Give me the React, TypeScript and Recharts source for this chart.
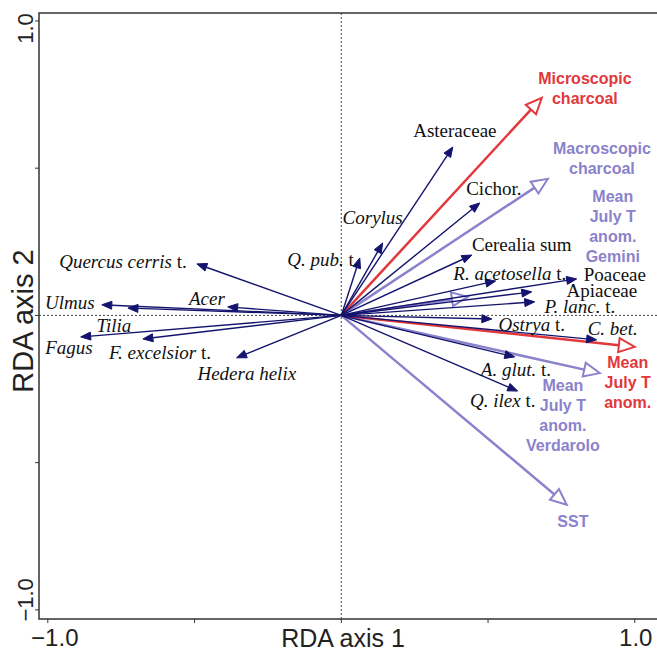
import React from 'react';
import { ScatterChart, Scatter, XAxis, YAxis, ReferenceLine, ReferenceArea, Label } from 'recharts';

const NAVY = '#14146e';
const RED = '#e2383c';
const LAVENDER = '#8a82cb';
const AXIS = '#333333';

// RDA scores of the pollen taxa (arrow tips)
const taxa = [
  { name: 'Quercus cerris t.', x: -0.492, y: 0.175 },
  { name: 'Ulmus', x: -0.816, y: 0.036 },
  { name: 'Tilia', x: -0.727, y: 0.025 },
  { name: 'Acer', x: -0.387, y: 0.029 },
  { name: 'Fagus', x: -0.888, y: -0.073 },
  { name: 'F. excelsior t.', x: -0.676, y: -0.08 },
  { name: 'Hedera helix', x: -0.357, y: -0.144 },
  { name: 'Q. pub. t.', x: 0.063, y: 0.195 },
  { name: 'Corylus', x: 0.141, y: 0.246 },
  { name: 'Asteraceae', x: 0.38, y: 0.572 },
  { name: 'Cichor.', x: 0.472, y: 0.382 },
  { name: 'Cerealia sum', x: 0.445, y: 0.205 },
  { name: 'R. acetosella t.', x: 0.526, y: 0.117 },
  { name: 'Poaceae', x: 0.802, y: 0.124 },
  { name: 'Apiaceae', x: 0.649, y: 0.08 },
  { name: 'P. lanc. t.', x: 0.659, y: 0.046 },
  { name: 'Ostrya t.', x: 0.513, y: -0.012 },
  { name: 'C. bet.', x: 0.87, y: -0.083 },
  { name: 'A. glut. t.', x: 0.591, y: -0.141 },
  { name: 'Q. ilex t.', x: 0.601, y: -0.257 },
];

// explanatory variables, significant (red) and passive (lavender)
const redVars = [
  { name: 'Microscopic charcoal', x: 0.683, y: 0.739 },
  { name: 'Mean July T anom.', x: 1.0, y: -0.107 },
];
const lavenderVars = [
  { name: 'Macroscopic charcoal', x: 0.704, y: 0.464 },
  { name: 'Mean July T anom. Gemini', x: 0.431, y: 0.063 },
  { name: 'Mean July T anom. Verdarolo', x: 0.881, y: -0.196 },
  { name: 'SST', x: 0.768, y: -0.643 },
];

// label anchors (in RDA units); *...* is italic
const taxaLabels = [
  { text: '*Quercus cerris* t.', x: -0.744, y: 0.185 },
  { text: '*Ulmus*', x: -0.925, y: 0.046 },
  { text: '*Acer*', x: -0.458, y: 0.059 },
  { text: '*Tilia*', x: -0.775, y: -0.032 },
  { text: '*Fagus*', x: -0.928, y: -0.107 },
  { text: '*F. excelsior* t.', x: -0.618, y: -0.124 },
  { text: '*Hedera helix*', x: -0.322, y: -0.195 },
  { text: '*Q. pub.* t.', x: -0.063, y: 0.192 },
  { text: '*Corylus*', x: 0.107, y: 0.334 },
  { text: 'Asteraceae', x: 0.387, y: 0.63 },
  { text: 'Cichor.', x: 0.52, y: 0.433 },
  { text: 'Cerealia sum', x: 0.615, y: 0.243 },
  { text: '*R. acetosella* t.', x: 0.574, y: 0.144 },
  { text: 'Poaceae', x: 0.932, y: 0.141 },
  { text: 'Apiaceae', x: 0.888, y: 0.087 },
  { text: '*P. lanc.* t.', x: 0.813, y: 0.032 },
  { text: '*Ostrya* t.', x: 0.649, y: -0.029 },
  { text: '*C. bet.*', x: 0.925, y: -0.042 },
  { text: '*A. glut.* t.', x: 0.595, y: -0.182 },
  { text: '*Q. ilex* t.', x: 0.55, y: -0.287 },
];
const redLabels = [
  { text: 'Microscopic\ncharcoal', x: 0.83, y: 0.769 },
  { text: 'Mean\nJuly T\nanom.', x: 0.976, y: -0.229 },
];
const lavenderLabels = [
  { text: 'Macroscopic\ncharcoal', x: 0.888, y: 0.533 },
  { text: 'Mean\nJuly T\nanom.\nGemini', x: 0.925, y: 0.302 },
  { text: 'Mean\nJuly T\nanom.\nVerdarolo', x: 0.755, y: -0.341 },
  { text: 'SST', x: 0.789, y: -0.701 },
];

const xTicks = [-1, -0.5, 0, 0.5, 1];
const yTicks = [-1, -0.5, 0, 0.5, 1];
const xDomain = [-1.03, 1.12];
const yDomain = [-1.031, 1.027];

const SERIF = '"Liberation Serif", "Times New Roman", serif';
const SANS = '"Liberation Sans", Arial, sans-serif';

const makeArrow = (color: string, width: number, open: boolean) => (props: any) => {
  const pts = props.points;
  if (!pts || pts.length < 2) return <g />;
  const a = pts[0];
  const b = pts[1];
  const dx = b.x - a.x;
  const dy = b.y - a.y;
  const len = Math.hypot(dx, dy) || 1;
  const ux = dx / len;
  const uy = dy / len;
  const headLen = open ? 16 : 10;
  const headW = open ? 7 : 4;
  const bx = b.x - ux * headLen;
  const by = b.y - uy * headLen;
  const px = -uy;
  const py = ux;
  const tri = `${b.x},${b.y} ${bx + px * headW},${by + py * headW} ${bx - px * headW},${by - py * headW}`;
  return (
    <g>
      <line x1={a.x} y1={a.y} x2={bx} y2={by} stroke={color} strokeWidth={width} />
      <polygon points={tri} fill={open ? '#fff' : color} stroke={color} strokeWidth={open ? 2 : 1} />
    </g>
  );
};

const noDot = () => <g />;

const taxonLabel = (p: any) => {
  const parts = String(p.payload.text).split('*');
  return (
    <text x={p.cx} y={p.cy} textAnchor="middle" dominantBaseline="central" fontFamily={SERIF} fontSize={19} fill="#111">
      {parts.map((s, i) => (s ? <tspan key={i} fontStyle={i % 2 ? 'italic' : 'normal'}>{s}</tspan> : null))}
    </text>
  );
};

const varLabel = (color: string) => (p: any) => {
  const lines = String(p.payload.text).split('\n');
  const lh = 20;
  return (
    <text textAnchor="middle" fontFamily={SANS} fontSize={16} fontWeight="bold" fill={color}>
      {lines.map((l, i) => (
        <tspan key={i} x={p.cx} y={p.cy + (i - (lines.length - 1) / 2) * lh} dominantBaseline="central">{l}</tspan>
      ))}
    </text>
  );
};

const xTick = (p: any) => {
  const v = p.payload.value;
  if (Math.abs(v) !== 1) return <g />;
  return (
    <text x={p.x + (v < 0 ? 7 : 1)} y={p.y + 21} textAnchor="middle" fontFamily={SANS} fontSize={24} fill="#222">
      {v < 0 ? '\u22121.0' : '1.0'}
    </text>
  );
};

const yTick = (p: any) => {
  const v = p.payload.value;
  if (Math.abs(v) !== 1) return <g />;
  const cy = p.y + (v > 0 ? 7.5 : -10);
  return (
    <text transform={`translate(${p.x},${cy}) rotate(-90)`} textAnchor="middle" fontFamily={SANS} fontSize={22} fill="#222">
      {v < 0 ? '\u22121.0' : '1.0'}
    </text>
  );
};

export default function App() {
  return (
    <div style={{ position: 'absolute', left: 0, top: 0, width: 657, height: 651, overflow: 'hidden', background: '#fff' }}>
      <ScatterChart width={680} height={651} margin={{ top: 13, right: 10, bottom: 0, left: 0 }}>
        <XAxis
          type="number"
          dataKey="x"
          domain={xDomain}
          allowDataOverflow
          ticks={xTicks}
          interval={0}
          height={32}
          axisLine={false}
          tickSize={4}
          tickMargin={2}
          tickLine={{ stroke: AXIS }}
          tick={xTick}
        >
          <Label
            content={(p: any) => (
              <text x={343} y={p.viewBox.y + 28} textAnchor="middle" fontFamily={SANS} fontSize={25} fill="#222">
                RDA axis 1
              </text>
            )}
          />
        </XAxis>
        <YAxis
          type="number"
          dataKey="y"
          domain={yDomain}
          allowDataOverflow
          ticks={yTicks}
          interval={0}
          width={39}
          axisLine={false}
          tickSize={4}
          tickMargin={2}
          tickLine={{ stroke: AXIS }}
          tick={yTick}
        >
          <Label
            content={(p: any) => (
              <text transform={`translate(33,321) rotate(-90)`} textAnchor="middle" fontFamily={SANS} fontSize={29} fill="#222">
                RDA axis 2
              </text>
            )}
          />
        </YAxis>
        <ReferenceArea x1={xDomain[0]} x2={xDomain[1]} y1={yDomain[0]} y2={yDomain[1]} fill="none" stroke={AXIS} strokeWidth={1.5} fillOpacity={0} />
        <ReferenceLine x={0} stroke="#444" strokeWidth={1} strokeDasharray="2 2" />
        <ReferenceLine y={0} stroke="#444" strokeWidth={1} strokeDasharray="2 2" />

        {lavenderVars.map((v) => (
          <Scatter key={v.name} data={[{ x: 0, y: 0 }, v]} line={makeArrow(LAVENDER, 2.5, true)} shape={noDot} isAnimationActive={false} />
        ))}
        {redVars.map((v) => (
          <Scatter key={v.name} data={[{ x: 0, y: 0 }, v]} line={makeArrow(RED, 2.5, true)} shape={noDot} isAnimationActive={false} />
        ))}
        {taxa.map((t) => (
          <Scatter key={t.name} data={[{ x: 0, y: 0 }, t]} line={makeArrow(NAVY, 1.4, false)} shape={noDot} isAnimationActive={false} />
        ))}

        <Scatter data={taxaLabels} shape={taxonLabel} isAnimationActive={false} />
        <Scatter data={redLabels} shape={varLabel(RED)} isAnimationActive={false} />
        <Scatter data={lavenderLabels} shape={varLabel(LAVENDER)} isAnimationActive={false} />
      </ScatterChart>
    </div>
  );
}
